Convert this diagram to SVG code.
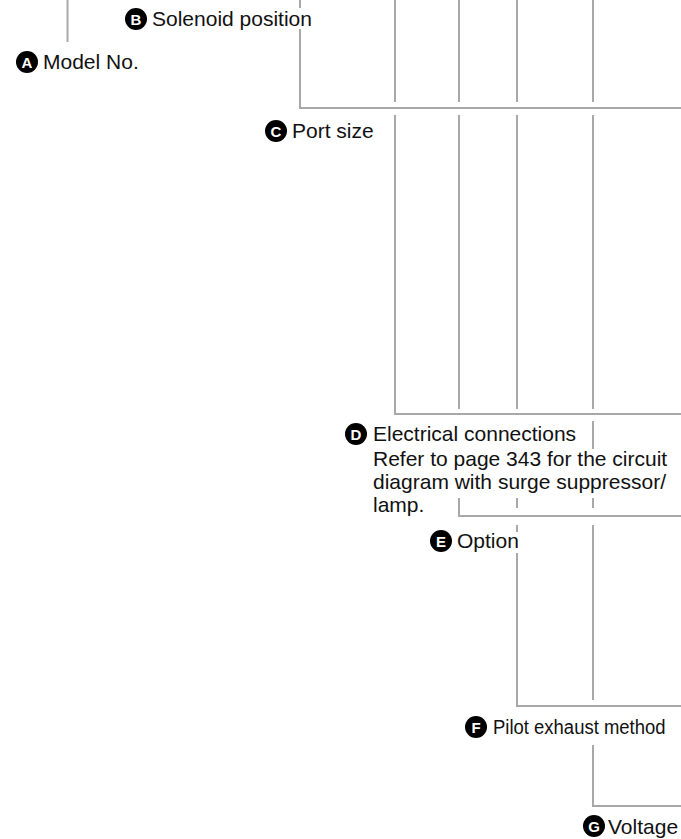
<svg xmlns="http://www.w3.org/2000/svg" width="681" height="839" viewBox="0 0 681 839">
<style>
.ln{stroke:#a8a8a8;stroke-width:2;fill:none}
.t{font-family:"Liberation Sans",Arial,sans-serif;font-size:21px;fill:#111}
.b{fill:#000}
.bl{font-family:"Liberation Sans",Arial,sans-serif;font-size:15px;font-weight:bold;fill:#fff;text-anchor:middle}
</style>
<rect width="681" height="839" fill="#fff"/>
<g id="connectors">
<path class="ln" d="M67.5 0V42"/>
<path class="ln" d="M300 0V8M300 29V108H681"/>
<path class="ln" d="M395 0V102M459 0V102M517 0V102M593 0V102"/>
<path class="ln" d="M395 115V414H681"/>
<path class="ln" d="M459 115V409M517 115V409M593 115V409"/>
<path class="ln" d="M593 421V449M593 498V508M517 498V508"/>
<path class="ln" d="M459 498V516H681"/>
<path class="ln" d="M517 525V532M517 553V706H681"/>
<path class="ln" d="M593 525V700"/>
<path class="ln" d="M593 745V806H681"/>
</g>
<g id="nodeA">
<circle class="b" cx="27" cy="62" r="11"/><text class="bl" x="27" y="67.5">A</text>
<text class="t" x="43" y="69">Model No.</text>
</g>
<g id="nodeB">
<circle class="b" cx="136" cy="19" r="11"/><text class="bl" x="136" y="24.5">B</text>
<text class="t" x="152" y="26">Solenoid position</text>
</g>
<g id="nodeC">
<circle class="b" cx="276" cy="131" r="11"/><text class="bl" x="276" y="136.5">C</text>
<text class="t" x="292" y="138">Port size</text>
</g>
<g id="nodeD">
<circle class="b" cx="356" cy="434" r="11"/><text class="bl" x="356" y="439.5">D</text>
<text class="t" x="373" y="441">Electrical connections</text>
<text class="t" x="373" y="466">Refer to page 343 for the circuit</text>
<text class="t" x="373" y="489">diagram with surge suppressor/</text>
<text class="t" x="373" y="512">lamp.</text>
</g>
<g id="nodeE">
<circle class="b" cx="441" cy="541" r="11"/><text class="bl" x="441" y="546.5">E</text>
<text class="t" x="457" y="548">Option</text>
</g>
<g id="nodeF">
<circle class="b" cx="476" cy="727" r="11"/><text class="bl" x="476" y="732.5">F</text>
<text class="t" style="font-size:18.5px" transform="translate(493 734) scale(1 1.135)">Pilot exhaust method</text>
</g>
<g id="nodeG">
<circle class="b" cx="594" cy="826" r="11"/><text class="bl" x="594" y="831.5">G</text>
<text class="t" x="608" y="834">Voltage</text>
</g>
</svg>
